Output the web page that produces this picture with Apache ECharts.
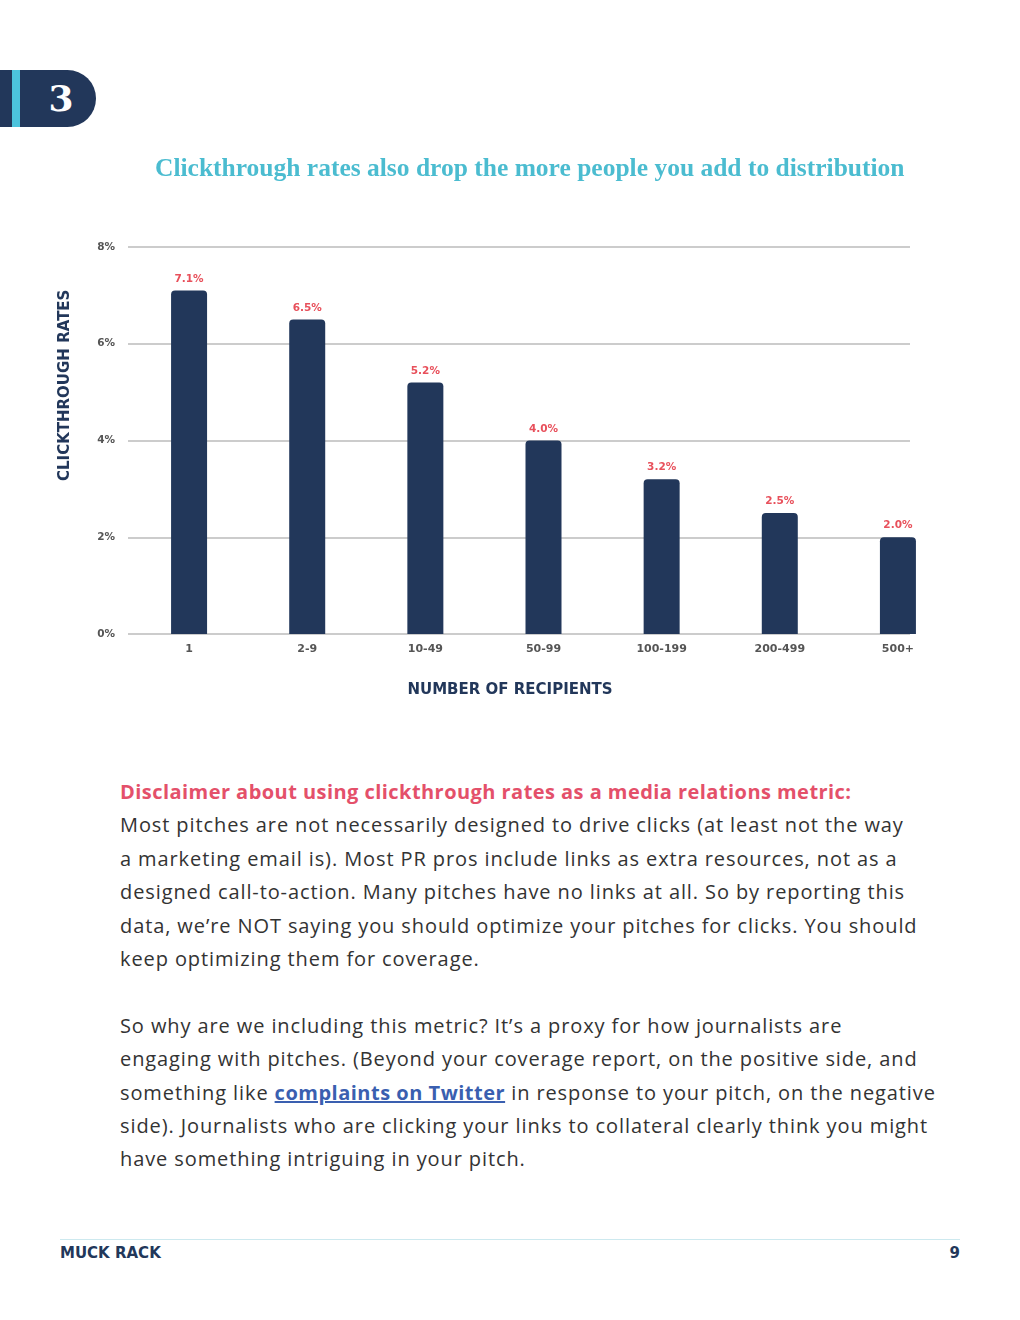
<!DOCTYPE html>
<html>
<head>
<meta charset="utf-8">
<script src="https://cdn.jsdelivr.net/npm/echarts@6/dist/echarts.min.js"></script>
<style>
  html, body { margin: 0; padding: 0; background: #fff; }
  #page { position: relative; width: 1020px; height: 1320px; overflow: hidden; }
  #chart { position: absolute; left: 0; top: 0; width: 1020px; height: 760px; }
  .badge { position: absolute; left: 0; top: 70px; width: 96px; height: 57px; background: #22375a; border-radius: 0 29px 29px 0; }
  .badge .strip { position: absolute; left: 12px; top: 0; width: 8px; height: 57px; background: #4cc3dc; }
  .badge .num { position: absolute; left: 46px; top: 6px; width: 30px; text-align: center; color: #fff; font-family: "DejaVu Serif", serif; font-weight: bold; font-size: 36px; line-height: 44px; }
  .text { position: absolute; left: 120px; top: 775px; width: 880px; font-family: "Open Sans", sans-serif; font-size: 20px; line-height: 33.4px; color: #333; white-space: nowrap; letter-spacing: 0.9px; }
  .text .head { color: #e4506a; font-weight: bold; letter-spacing: 0.45px; }
  .text a { color: #3a5fb0; font-weight: bold; text-decoration: underline; letter-spacing: 0.5px; }
  .footline { position: absolute; left: 60px; top: 1239px; width: 900px; height: 1px; background: #cde9ef; }
  .brand { position: absolute; left: 60px; top: 1244px; font-family: "DejaVu Sans", sans-serif; font-weight: 900; font-size: 15px; color: #22375a; }
  .pnum { position: absolute; left: 940px; top: 1244px; width: 20px; text-align: right; font-family: "DejaVu Sans", sans-serif; font-weight: bold; font-size: 15px; color: #22375a; }
</style>
</head>
<body>
<div id="page">
  <div class="badge"><div class="strip"></div><div class="num">3</div></div>
  <div id="chart"></div>
  <div class="text">
    <span class="head">Disclaimer about using clickthrough rates as a media relations metric:</span><br>
    Most pitches are not necessarily designed to drive clicks (at least not the way<br>
    a marketing email is). Most PR pros include links as extra resources, not as a<br>
    designed call-to-action. Many pitches have no links at all. So by reporting this<br>
    data, we’re NOT saying you should optimize your pitches for clicks. You should<br>
    keep optimizing them for coverage.<br>
    <br>
    So why are we including this metric? It’s a proxy for how journalists are<br>
    engaging with pitches. (Beyond your coverage report, on the positive side, and<br>
    something like <a>complaints on Twitter</a> in response to your pitch, on the negative<br>
    side). Journalists who are clicking your links to collateral clearly think you might<br>
    have something intriguing in your pitch.
  </div>
  <div class="footline"></div>
  <div class="brand">MUCK RACK</div>
  <div class="pnum">9</div>
</div>
<script>
const categories = ['1', '2-9', '10-49', '50-99', '100-199', '200-499', '500+'];
const rates = [7.1, 6.5, 5.2, 4.0, 3.2, 2.5, 2.0];
const yTicks = [0, 2, 4, 6, 8];

const chart = echarts.init(document.getElementById('chart'));
const labelFont = '"DejaVu Sans", sans-serif';
chart.setOption({
  animation: false,
  title: {
    text: 'Clickthrough rates also drop the more people you add to distribution',
    left: 155, top: 156, padding: 0,
    textStyle: { fontFamily: '"Liberation Serif", serif', fontWeight: 'bold', fontSize: 25.5, color: '#4bbcd0' }
  },
  grid: [
    { left: 128, right: 110, top: 247, height: 387 },
    { left: 130, right: 63, top: 247, height: 387 }
  ],
  xAxis: [
    { gridIndex: 0, type: 'value', show: false },
    { gridIndex: 1, type: 'category', data: categories,
      axisLine: { show: false }, axisTick: { show: false },
      axisLabel: { margin: 10, color: '#555', fontFamily: labelFont, fontWeight: 'bold', fontSize: 11 } }
  ],
  yAxis: [
    { gridIndex: 0, type: 'value', min: 0, max: 8, interval: 2,
      axisLine: { show: false }, axisTick: { show: false },
      axisLabel: { margin: 13, color: '#555', fontFamily: labelFont, fontWeight: 'bold', fontSize: 10.5,
        formatter: v => yTicks.includes(v) ? v + '%' : '' },
      splitLine: { lineStyle: { color: '#cccccc', width: 2 } } },
    { gridIndex: 1, type: 'value', min: 0, max: 8, interval: 2, show: false, splitLine: { show: false } }
  ],
  series: [{
    type: 'bar', xAxisIndex: 1, yAxisIndex: 1,
    data: rates, barWidth: 36,
    itemStyle: { color: '#22375a', borderRadius: [4, 4, 0, 0] },
    label: { show: true, position: 'top', distance: 6, color: '#e8505b',
      fontFamily: labelFont, fontWeight: 'bold', fontSize: 10.5,
      formatter: p => p.value.toFixed(1) + '%' }
  }],
  graphic: [
    { type: 'text', left: 'center', top: 683,
      style: { text: 'NUMBER OF RECIPIENTS', fill: '#22375a', font: 'bold 15px "DejaVu Sans", sans-serif' } },
    { type: 'text', x: 58, y: 481, rotation: Math.PI / 2,
      style: { text: 'CLICKTHROUGH RATES', fill: '#22375a', font: 'bold 15px "DejaVu Sans", sans-serif' } }
  ]
});
</script>
</body>
</html>
